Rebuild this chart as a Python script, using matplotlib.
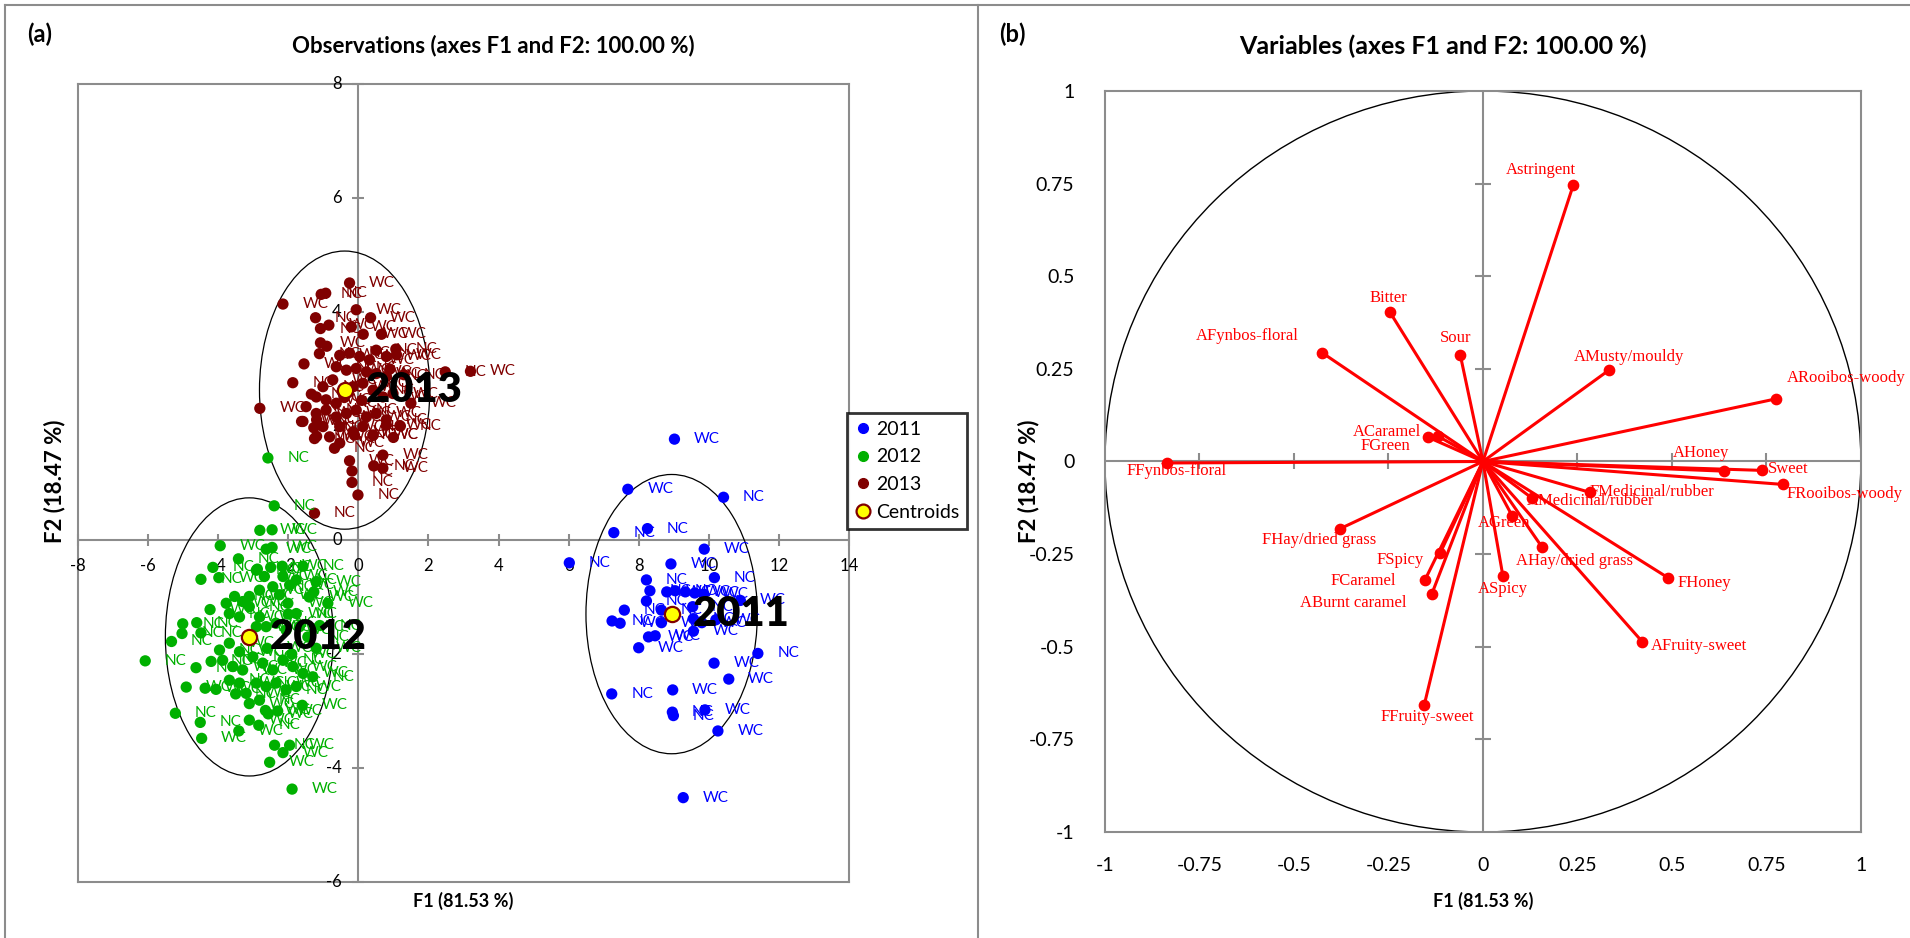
import numpy as np
import matplotlib
matplotlib.use('Agg')
import matplotlib.pyplot as plt
from matplotlib.patches import Ellipse, Circle
from matplotlib.lines import Line2D

plt.rcParams['font.family'] = ['Lato', 'DejaVu Sans']

# ---- observations (panel a) ----
years = ['2011', '2012', '2013']
year_colors = ['#0000FF', '#00B000', '#800000']

x2011 = [9.02, 7.69, 10.42, 7.29, 8.25, 9.87, 6.02, 8.92, 8.22, 10.16,
         8.32, 8.80, 9.04, 9.33, 9.60, 9.85, 8.22, 8.65, 7.59, 7.24,
         7.47, 10.90, 9.54, 9.56, 8.65, 8.28, 8.47, 9.56, 9.80, 10.20,
         8.00, 11.40, 10.15, 10.57, 7.23, 8.97, 8.96, 8.99, 9.89, 10.26,
         9.27]
y2011 = [1.77, 0.89, 0.75, 0.13, 0.20, -0.16, -0.40, -0.42, -0.70, -0.66,
         -0.89, -0.91, -0.89, -0.91, -0.93, -0.95, -1.07, -1.23, -1.23, -1.42,
         -1.46, -1.06, -1.17, -1.38, -1.45, -1.70, -1.68, -1.60, -1.45, -1.40,
         -1.89, -1.99, -2.16, -2.44, -2.70, -2.63, -3.02, -3.08, -2.98, -3.35,
         -4.52]
lab2011 = ("WC WC NC NC NC WC NC WC NC NC "
           "NC WC NC WC WC WC NC NC NC NC "
           "WC WC NC NC WC WC WC WC WC WC "
           "WC NC WC WC NC WC NC NC WC WC "
           "WC").split()

x2012 = [-2.58, -2.40, -2.81, -2.46, -3.94, -2.63, -2.46, -3.42, -4.15, -3.98,
         -4.49, -2.88, -2.50, -2.17, -1.58, -1.20, -1.27, -0.87, -4.23, -5.01,
         -5.03, -4.61, -4.49, -5.33, -6.08, -4.63, -4.20, -4.91, -4.37, -4.06,
         -5.22, -4.51, -4.47, -3.41, -3.11, -2.84, -2.39, -1.96, -2.15, -2.53,
         -1.89, -2.65, -2.57,
         -3.77, -3.53, -3.30, -3.11, -3.68, -3.39, -2.91, -2.68, -2.44, -2.15,
         -1.96, -1.77, -2.25, -2.01, -1.77, -2.82, -3.11, -2.82, -2.63, -2.35,
         -2.06, -1.68, -1.44, -2.91, -3.96, -3.68, -3.39, -3.87, -3.58, -3.30,
         -3.01, -2.73, -2.44, -2.15, -1.87, -1.58, -3.68, -3.39, -3.20, -2.91,
         -2.63, -2.35, -2.06, -1.77, -3.11, -2.82,
         -1.40, -1.20, -1.30, -1.60, -2.30, -1.10, -2.00, -2.60, -3.50, -1.90]
y2012 = [1.44, 0.60, 0.17, 0.18, -0.10, -0.16, -0.13, -0.33, -0.48, -0.66,
         -0.69, -0.51, -0.48, -0.46, -0.46, -0.73, -0.91, -1.11, -1.22, -1.47,
         -1.64, -1.45, -1.63, -1.78, -2.12, -2.24, -2.13, -2.58, -2.60, -2.62,
         -3.04, -3.20, -3.48, -3.35, -3.16, -3.25, -3.60, -3.60, -3.73, -3.90,
         -4.37, -2.99, -3.05,
         -1.11, -0.99, -1.08, -0.99, -1.29, -1.35, -0.53, -0.64, -0.82, -0.64,
         -0.79, -0.70, -0.96, -1.11, -1.29, -0.88, -1.17, -1.35, -1.52, -1.46,
         -1.58, -1.52, -1.70, -1.52, -1.93, -1.81, -1.96, -2.11, -2.22, -2.28,
         -2.05, -2.16, -2.28, -2.11, -2.22, -2.34, -2.46, -2.51, -2.69, -2.51,
         -2.57, -2.51, -2.63, -2.57, -2.87, -2.81,
         -1.00, -1.90, -2.40, -2.90, -3.00, -1.50, -1.30, -1.90, -2.70, -2.00]
lab2012 = ("NC NC WC WC WC WC WC NC NC WC "
           "NC WC NC WC NC WC WC WC WC NC "
           "NC NC NC NC NC NC NC WC WC WC "
           "NC NC WC WC WC NC NC WC WC WC "
           "WC WC WC "
           "WC NC WC WC NC WC NC WC NC WC "
           "WC NC WC WC NC WC NC WC WC NC "
           "WC WC NC WC NC WC WC NC WC WC "
           "NC WC WC NC WC WC NC WC WC NC "
           "WC WC NC WC WC NC "
           "WC WC NC WC WC NC WC WC NC WC").split()

x2013 = [-0.25, -1.06, -0.93, -2.15, -0.06, 0.35, -1.22, -1.08, -0.84, -0.20,
         0.66, 0.14, 1.07, -1.08, -1.11, 2.48, 3.20, -1.87, -1.55, -2.81,
         -1.34, -1.62, -1.19, -1.19, -1.27, -0.68, -0.25, -0.18, -0.18, -0.01,
         0.44, 0.70, 0.70, 0.42, -1.25,
         -0.53, -0.25, 0.04, 0.32, 0.51, 0.80, 1.09, -0.63, -0.34, -0.06,
         0.23, 0.51, 0.80, -0.73, -1.01, -1.20, -0.92, -0.63, -0.15, 0.13,
         0.42, 0.70, 0.99, -1.49, -1.20, -0.92, -0.63, -0.34, -0.06, 0.23,
         0.51, 0.80, -1.58, -1.01, -0.53, -0.15, 0.13, 0.42, 0.80, -1.25,
         -0.82, -0.11, -0.53,
         1.30, 1.50, 1.20, 1.00, 0.90, -0.40, 0.10, -0.90]
y2013 = [4.51, 4.31, 4.33, 4.14, 4.04, 3.90, 3.90, 3.71, 3.77, 3.74,
         3.61, 3.61, 3.35, 3.46, 3.27, 2.95, 2.96, 2.76, 3.09, 2.31,
         2.56, 2.08, 2.11, 1.82, 1.97, 1.61, 1.39, 1.21, 1.01, 0.79,
         1.30, 1.26, 1.49, 1.84, 0.47,
         3.24, 3.28, 3.22, 3.16, 3.33, 3.22, 3.25, 3.04, 2.98, 3.01,
         2.95, 2.92, 2.87, 2.81, 2.69, 2.51, 2.46, 2.40, 2.69, 2.75,
         2.63, 2.51, 2.57, 2.34, 2.22, 2.28, 2.16, 2.22, 2.28, 2.16,
         2.22, 2.11, 2.08, 1.99, 1.99, 1.90, 1.99, 1.84, 2.02, 1.78,
         1.81, 1.84, 1.70,
         2.90, 2.40, 2.00, 1.80, 3.00, 2.50, 2.45, 3.40]
lab2013 = ("WC NC NC WC WC WC NC NC WC WC "
           "WC WC NC WC NC NC WC NC WC WC "
           "NC WC NC WC NC NC WC NC NC NC "
           "NC WC WC WC NC "
           "WC NC WC WC NC WC WC NC WC NC "
           "WC WC NC WC NC WC WC NC WC WC "
           "NC WC WC NC WC NC WC WC NC WC "
           "WC NC WC NC WC WC NC WC "
           "WC NC WC NC WC NC WC NC").split()

obs_x = [x2011, x2012, x2013]
obs_y = [y2011, y2012, y2013]
obs_lab = [lab2011, lab2012, lab2013]

centroid_x = [8.94, -3.11, -0.39]
centroid_y = [-1.30, -1.70, 2.63]
ellipse_w = [4.89, 4.79, 4.86]
ellipse_h = [4.90, 4.88, 4.88]

obs_xticks = [-8, -6, -4, -2, 0, 2, 4, 6, 8, 10, 12, 14]
obs_yticks = [-6, -4, -2, 0, 2, 4, 6, 8]

# ---- variables (panel b) ----
var_names = ['Astringent', 'Bitter', 'Sour', 'AFynbos-floral', 'ACaramel',
             'FGreen', 'FFynbos-floral', 'FHay/dried grass', 'FSpicy',
             'FCaramel', 'ABurnt caramel', 'FFruity-sweet', 'AGreen', 'ASpicy',
             'AMedicinal/rubber', 'FMedicinal/rubber', 'AHay/dried grass',
             'FHoney', 'AFruity-sweet', 'AHoney', 'Sweet', 'FRooibos-woody',
             'ARooibos-woody', 'AMusty/mouldy']
var_f1 = [0.239, -0.246, -0.060, -0.426, -0.144, -0.120, -0.835, -0.377, -0.113,
          -0.153, -0.135, -0.155, 0.077, 0.053, 0.130, 0.282, 0.157, 0.490,
          0.422, 0.637, 0.738, 0.795, 0.775, 0.334]
var_f2 = [0.746, 0.403, 0.288, 0.294, 0.065, 0.069, -0.004, -0.181, -0.247,
          -0.319, -0.357, -0.656, -0.146, -0.310, -0.099, -0.083, -0.232, -0.314,
          -0.487, -0.026, -0.024, -0.062, 0.169, 0.247]
var_ticks = [-1, -0.75, -0.5, -0.25, 0, 0.25, 0.5, 0.75, 1]
var_ticklabels = ['-1', '-0.75', '-0.5', '-0.25', '0', '0.25', '0.5', '0.75', '1']

# label placement (offset in points, alignment)
label_pos = {
    'Astringent': (-23, 11, 'center'), 'Bitter': (-1, 10, 'center'),
    'Sour': (-3, 12, 'center'), 'AFynbos-floral': (-17, 12, 'right'),
    'ACaramel': (-5, 4, 'right'), 'FGreen': (-20, -7, 'right'),
    'FFynbos-floral': (7, -6, 'center'), 'FHay/dried grass': (-15, -8, 'center'),
    'FSpicy': (-12, -5, 'right'), 'FCaramel': (-21, -1, 'right'),
    'ABurnt caramel': (-18, -7, 'right'), 'FFruity-sweet': (2, -9, 'center'),
    'AGreen': (-6, -5, 'center'), 'ASpicy': (0, -9, 'center'),
    'AMedicinal/rubber': (-4, -2, 'left'), 'FMedicinal/rubber': (0, 0, 'left'),
    'AHay/dried grass': (23, -10, 'center'), 'FHoney': (7, -4, 'left'),
    'AFruity-sweet': (6, -3, 'left'), 'AHoney': (-16, 13, 'center'),
    'Sweet': (4, 1, 'left'), 'FRooibos-woody': (2, -7, 'left'),
    'ARooibos-woody': (8, 15, 'left'), 'AMusty/mouldy': (14, 9, 'center'),
}

gray = '#8c8c8c'

fig = plt.figure(figsize=(19.10, 9.38), dpi=100)

# ================= panel (a) =================
ax1 = fig.add_axes([0.0408, 0.0597, 0.4037, 0.8507])
ax1.set_xlim(-8, 14)
ax1.set_ylim(-6, 8)
ax1.set_xticks([])
ax1.set_yticks([])
for sp in ax1.spines.values():
    sp.set_color(gray)
    sp.set_linewidth(1.5)

ax1.axhline(0, color=gray, lw=1.5, zorder=1)
ax1.axvline(0, color=gray, lw=1.5, zorder=1)
ax1.plot(obs_xticks, np.zeros(len(obs_xticks)), ls='none', marker='|', ms=8,
         mew=1.5, color=gray, zorder=1, clip_on=False)
ax1.plot(np.zeros(len(obs_yticks)), obs_yticks, ls='none', marker='_', ms=8,
         mew=1.5, color=gray, zorder=1, clip_on=False)
for t in obs_xticks:
    ax1.annotate(str(t), (t, 0), xytext=(0, -19), textcoords='offset points',
                 ha='center', va='center', fontsize=12, zorder=3)
for t in obs_yticks:
    ax1.annotate(str(t), (0, t), xytext=(-12, 0), textcoords='offset points',
                 ha='right', va='center', fontsize=12, zorder=3)

for i in range(3):
    ax1.add_patch(Ellipse((centroid_x[i], centroid_y[i]), ellipse_w[i], ellipse_h[i],
                          fill=False, ec='black', lw=0.9, zorder=2))

for i in range(3):
    ax1.scatter(obs_x[i], obs_y[i], s=66, color=year_colors[i], edgecolors='none', zorder=3)
    for x, y, lab in zip(obs_x[i], obs_y[i], obs_lab[i]):
        ax1.annotate(lab, (x, y), xytext=(14, 0), textcoords='offset points',
                     ha='left', va='center', fontsize=11, color=year_colors[i], zorder=4)

ax1.scatter(centroid_x, centroid_y, s=120, facecolor='#FFFF00', edgecolor='#800000',
            linewidth=1.6, zorder=5)
for i in range(3):
    ax1.annotate(years[i], (centroid_x[i], centroid_y[i]), xytext=(15, 0),
                 textcoords='offset points', ha='left', va='center',
                 fontsize=30, fontweight='heavy', color='black', zorder=6)

handles = [Line2D([], [], ls='none', marker='o', ms=7, color=c) for c in year_colors]
handles.append(Line2D([], [], ls='none', marker='o', ms=10, mfc='#FFFF00',
                      mec='#800000', mew=1.6))
leg = fig.legend(handles, years + ['Centroids'], loc='upper left',
                 bbox_to_anchor=(847 / 1910, 1 - 413 / 938), frameon=True,
                 fancybox=False, edgecolor='black', fontsize=14, handlelength=0.8,
                 handletextpad=0.3, borderpad=0.4, labelspacing=0.55, borderaxespad=0)
leg.get_frame().set_linewidth(2)

fig.text(27 / 1910, 1 - 34 / 938, '(a)', fontsize=17, fontweight='bold', va='center')
fig.text(493 / 1910, 1 - 46 / 938, 'Observations (axes F1 and F2: 100.00 %)',
         fontsize=16, fontweight='bold', ha='center', va='center')
fig.text(463 / 1910, 1 - 901 / 938, 'F1 (81.53 %)', fontsize=13, fontweight='bold',
         ha='center', va='center')
fig.text(55 / 1910, 1 - 481 / 938, 'F2 (18.47 %)', fontsize=16, fontweight='bold',
         ha='center', va='center', rotation=90)

# ================= panel (b) =================
ax2 = fig.add_axes([0.5785, 0.1130, 0.3958, 0.7900])
ax2.set_xlim(-1, 1)
ax2.set_ylim(-1, 1)
for sp in ax2.spines.values():
    sp.set_color(gray)
    sp.set_linewidth(1.5)
ax2.set_xticks(var_ticks)
ax2.set_xticklabels(var_ticklabels)
ax2.set_yticks(var_ticks)
ax2.set_yticklabels(var_ticklabels)
ax2.tick_params(length=0, labelsize=14)
ax2.tick_params(axis='x', pad=18)
ax2.tick_params(axis='y', pad=22)

inner = [t for t in var_ticks if abs(t) not in (0, 1)]
ax2.axhline(0, color=gray, lw=1.5, zorder=1)
ax2.axvline(0, color=gray, lw=1.5, zorder=1)
ax2.plot(inner, np.zeros(len(inner)), ls='none', marker='|', ms=12, mew=1.5,
         color=gray, zorder=1)
ax2.plot(np.zeros(len(inner)), inner, ls='none', marker='_', ms=12, mew=1.5,
         color=gray, zorder=1)

ax2.add_patch(Circle((0, 0), 1, fill=False, ec='black', lw=1.0, zorder=2))

for name, x, y in zip(var_names, var_f1, var_f2):
    ax2.plot([0, x], [0, y], color='#FF0000', lw=2.2, zorder=3, solid_capstyle='round')
ax2.scatter(var_f1, var_f2, s=55, color='#FF0000', zorder=4)
for name, x, y in zip(var_names, var_f1, var_f2):
    dx, dy, ha = label_pos[name]
    ax2.annotate(name, (x, y), xytext=(dx, dy), textcoords='offset points',
                 ha=ha, va='center', fontsize=12, color='#FF0000',
                 family='Liberation Serif', zorder=5, annotation_clip=False)

fig.text(999 / 1910, 1 - 34 / 938, '(b)', fontsize=17, fontweight='bold', va='center')
fig.text(1443 / 1910, 1 - 46 / 938, 'Variables (axes F1 and F2: 100.00 %)',
         fontsize=18, fontweight='bold', ha='center', va='center')
fig.text(1483 / 1910, 1 - 901 / 938, 'F1 (81.53 %)', fontsize=13, fontweight='bold',
         ha='center', va='center')
fig.text(1029 / 1910, 1 - 481 / 938, 'F2 (18.47 %)', fontsize=16, fontweight='bold',
         ha='center', va='center', rotation=90)

# outer frame and panel separator
fig.add_artist(Line2D([5 / 1910, 5 / 1910], [0, 1 - 5 / 938], transform=fig.transFigure,
                      color=gray, lw=1.5))
fig.add_artist(Line2D([5 / 1910, 1], [1 - 5 / 938, 1 - 5 / 938], transform=fig.transFigure,
                      color=gray, lw=1.5))
fig.add_artist(Line2D([978 / 1910, 978 / 1910], [0, 1 - 5 / 938], transform=fig.transFigure,
                      color=gray, lw=1.5))

fig.savefig('out.png', dpi=100)
